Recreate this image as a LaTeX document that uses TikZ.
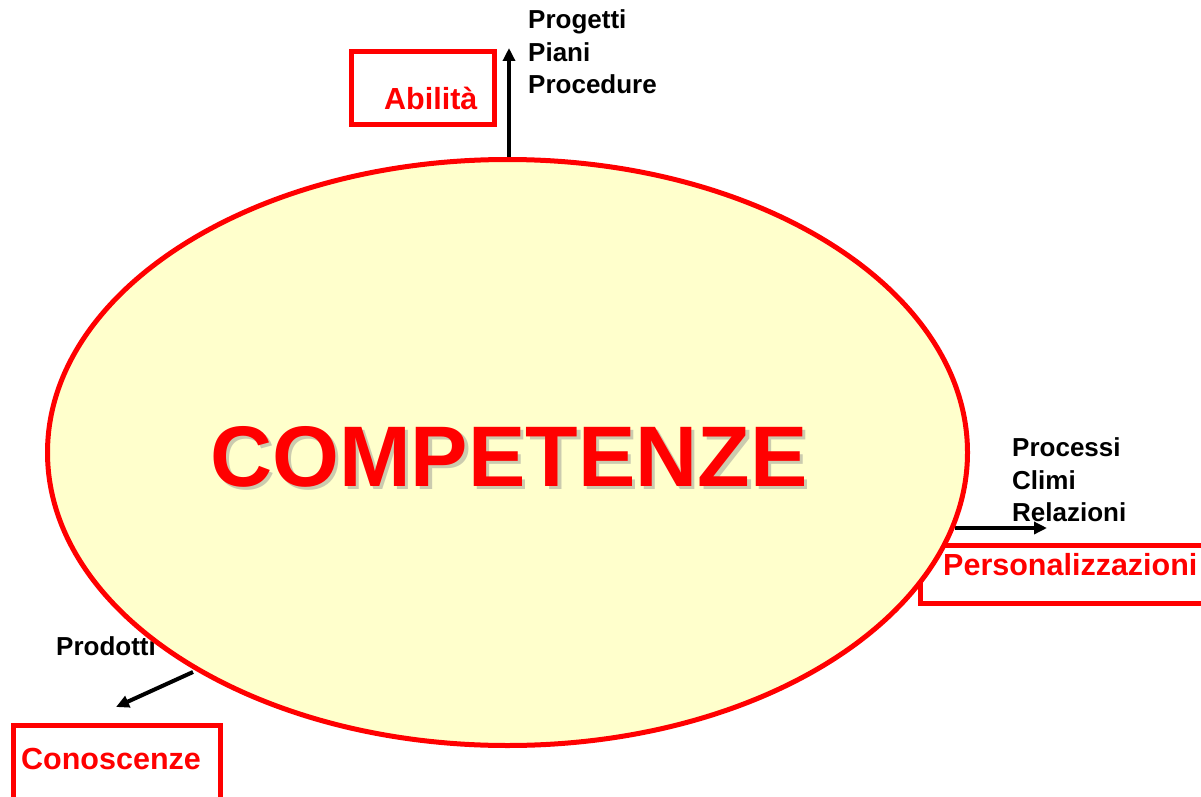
\documentclass[tikz,border=0pt]{standalone}
\usepackage{fontspec}
\setmainfont{Liberation Sans}
\usetikzlibrary{shapes.geometric,arrows.meta}
\definecolor{ellfill}{HTML}{FFFFCC}
\definecolor{myred}{HTML}{FF0000}
\begin{document}
\begin{tikzpicture}[x=1pt,y=-1pt,
  redbox/.style={draw=myred,line width=5pt,inner sep=0,anchor=north west},
  redlabel/.style={text=myred,font=\fontsize{30.5}{34}\bfseries\selectfont,inner sep=0,anchor=base west},
  blacklabel/.style={font=\fontsize{26}{32.5}\bfseries\selectfont,inner sep=0,anchor=north west,align=left},
  arr/.style={line width=4pt,-{Triangle[length=13pt,width=12pt]}},
  bigtext/.style={font=\fontsize{86}{90}\bfseries\selectfont,inner sep=0,anchor=base west}]
\useasboundingbox (0,0) rectangle (1201,797);
\clip (0,0) rectangle (1201,797);
% boxes
\node[redbox,minimum width=143pt,minimum height=73pt] (abbox) at (349,49) {};
\node[redbox,minimum width=320pt,minimum height=58pt] (pebox) at (918,543) {};
\node[redbox,minimum width=207pt,minimum height=110pt] (cobox) at (11,723) {};
% black texts
\node[blacklabel] (abtxt) at (528,9.5) {Progetti\\Piani\\Procedure};
\node[blacklabel] (petxt) at (1012,437.5) {Processi\\Climi\\Relazioni};
\node[blacklabel,anchor=base west] (cotxt) at (56,655) {Prodotti};
% arrows
\coordinate (abS) at (509,158);
\coordinate (abT) at (509,48);
\coordinate (peS) at (955,528);
\coordinate (peT) at (1047,528);
\coordinate (coS) at (193,672);
\coordinate (coT) at (116,707);
\draw[arr] (abS) -- (abT);
\draw[arr] (peS) -- (peT);
\draw[arr] (coS) -- (coT);
% ellipse
\node[ellipse,draw=myred,line width=5pt,fill=ellfill,minimum width=920pt,minimum height=586pt,inner sep=0] (ell) at (507.5,452.5) {};
\node[bigtext,text=black!45,opacity=0.45] (shadow) at (213.5,489.5) {COMPETENZE};
\node[bigtext,text=myred] (title) at (210,486) {COMPETENZE};
% red labels
\node[redlabel] (ablab) at (384,110) {Abilità};
\node[redlabel] (pelab) at (943,575) {Personalizzazioni};
\node[redlabel] (colab) at (21,769) {Conoscenze};
\end{tikzpicture}
\end{document}
